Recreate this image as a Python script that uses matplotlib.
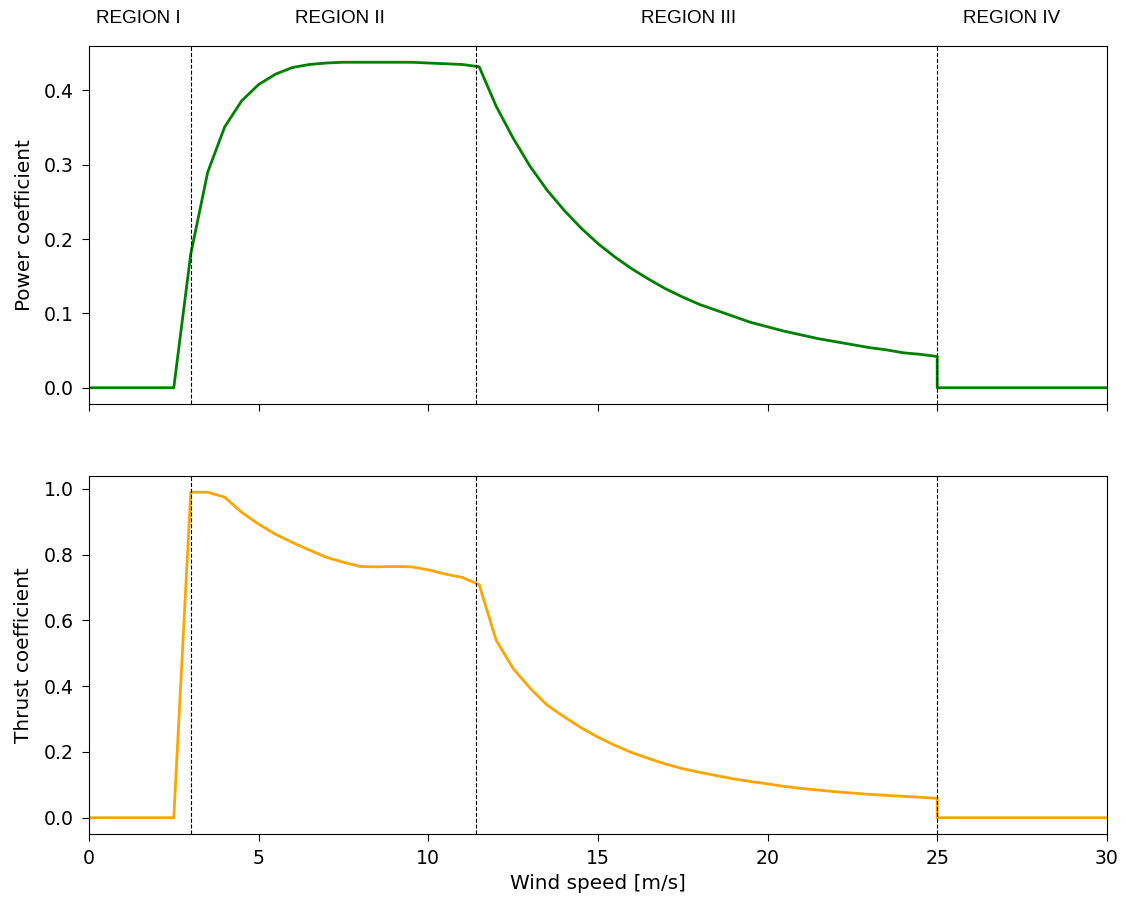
import matplotlib
matplotlib.use('Agg')
import matplotlib.pyplot as plt

# wind speed [m/s] (25 twice for the cut-out drop)
wind = [0, 0.5, 1, 1.5, 2, 2.5, 3, 3.5, 4, 4.5, 5, 5.5, 6, 6.5, 7, 7.5, 8, 8.5, 9, 9.5,
        10, 10.5, 11, 11.5, 12, 12.5, 13, 13.5, 14, 14.5, 15, 15.5, 16, 16.5, 17, 17.5,
        18, 18.5, 19, 19.5, 20, 20.5, 21, 21.5, 22, 22.5, 23, 23.5, 24, 24.5, 25,
        25, 25.5, 26, 26.5, 27, 27.5, 28, 28.5, 29, 29.5, 30]

cp = [0, 0, 0, 0, 0, 0, 0.180, 0.290, 0.351, 0.386, 0.408, 0.422, 0.431, 0.435, 0.437, 0.438,
      0.438, 0.438, 0.438, 0.438, 0.437, 0.436, 0.435, 0.432, 0.379, 0.336, 0.298, 0.266,
      0.239, 0.215, 0.194, 0.176, 0.160, 0.146, 0.133, 0.122, 0.112, 0.104, 0.096, 0.088,
      0.082, 0.076, 0.071, 0.066, 0.062, 0.058, 0.054, 0.051, 0.047, 0.045, 0.042,
      0, 0, 0, 0, 0, 0, 0, 0, 0, 0, 0]

ct = [0, 0, 0, 0, 0, 0, 0.990, 0.990, 0.975, 0.929, 0.893, 0.862, 0.837, 0.814, 0.792, 0.777,
      0.764, 0.763, 0.764, 0.763, 0.754, 0.741, 0.731, 0.709, 0.540, 0.454, 0.394, 0.343,
      0.307, 0.274, 0.245, 0.220, 0.198, 0.180, 0.163, 0.149, 0.138, 0.128, 0.118, 0.110,
      0.103, 0.095, 0.089, 0.084, 0.079, 0.075, 0.071, 0.068, 0.065, 0.062, 0.059,
      0, 0, 0, 0, 0, 0, 0, 0, 0, 0, 0]

region_bounds = [3, 11.4, 25]
region_names = ['REGION I', 'REGION II', 'REGION III', 'REGION IV']
region_label_x = [1.45, 7.4, 17.67, 27.2]

plt.rcParams['xtick.labelsize'] = 13.6
plt.rcParams['ytick.labelsize'] = 13.6
plt.rcParams['axes.labelsize'] = 14.4
plt.rcParams['xtick.major.size'] = 4.8
plt.rcParams['ytick.major.size'] = 4.8
plt.rcParams['xtick.major.pad'] = 6
plt.rcParams['ytick.major.pad'] = 6

fig = plt.figure(figsize=(11.26, 8.98), dpi=100)
ax1 = fig.add_axes([0.079, 0.5501, 0.904, 0.3987])
ax2 = fig.add_axes([0.079, 0.0713, 0.904, 0.3987], sharex=ax1)

ax1.plot(wind, cp, color='green', linewidth=2)
ax2.plot(wind, ct, color='orange', linewidth=2)

for ax in (ax1, ax2):
    for b in region_bounds:
        ax.axvline(b, color='black', linestyle='--', linewidth=0.8)

ax1.set_xlim(0, 30)
ax1.tick_params(labelbottom=False)
ax1.set_ylabel('Power coefficient', labelpad=7.5)
ax2.set_ylabel('Thrust coefficient', labelpad=7.5)
ax2.set_xlabel('Wind speed [m/s]')

for name, x in zip(region_names, region_label_x):
    ax1.text(x, 1.078, name, transform=ax1.get_xaxis_transform(), ha='center', va='center',
             family=['Liberation Sans', 'DejaVu Sans'], fontsize=13.6)

fig.savefig('out.png', dpi=100)
